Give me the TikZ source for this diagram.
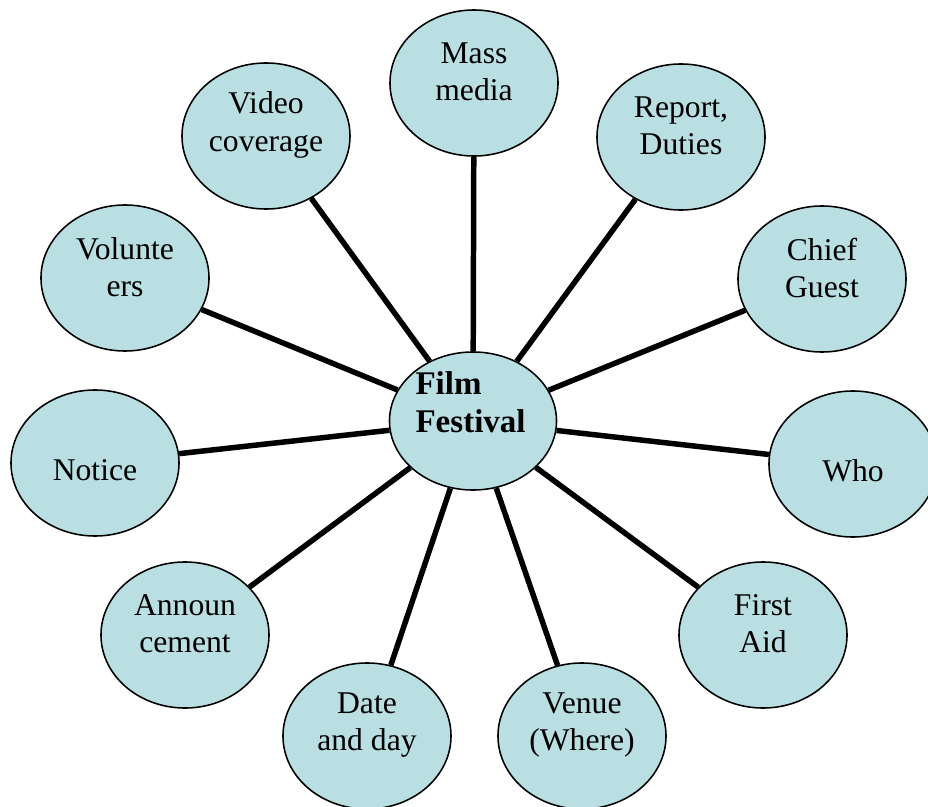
\documentclass[tikz,border=0pt]{standalone}
\usepackage{fontspec}
\setmainfont{Liberation Serif}
\usetikzlibrary{shapes.geometric}
\definecolor{bubblefill}{RGB}{185,223,227}

\begin{document}
\begin{tikzpicture}[x=0.025cm,y=-0.025cm,
        bubble/.style={draw,ellipse,fill=bubblefill,line width=1.1pt,inner sep=0pt,
            minimum width=4.2cm,minimum height=3.65cm},
        two/.style={label={[font=\fontsize{22.5pt}{26.5pt}\selectfont,align=center,yshift=0.275cm]center:#1}},
        one/.style={label={[font=\fontsize{22.5pt}{26.5pt}\selectfont,yshift=-0.175cm]center:#1}},
        spoke/.style={line width=3.9pt}]
            \useasboundingbox (0,0) rectangle (928,807);
            % centre
            \node[bubble,minimum width=4.175cm,minimum height=3.45cm,
                label={[font=\fontsize{23.5pt}{27pt}\selectfont\bfseries,align=left,yshift=0.475cm,xshift=-0.06cm]center:Film\\Festival}] (ff) at (473,421) {};
            % outer ring
            \node[bubble,two={Mass\\media}] (mass) at (474,83) {};
            \node[bubble,two={{Report,\\Duties}}] (rep) at (681,137) {};
            \node[bubble,two={Chief\\Guest}] (chief) at (822,279) {};
            \node[bubble,one={Who}] (who) at (853,464) {};
            \node[bubble,two={First\\Aid}] (aid) at (763,635) {};
            \node[bubble,two={Venue\\(Where)}] (venue) at (582,736) {};
            \node[bubble,two={Date\\and day}] (date) at (367,736) {};
            \node[bubble,two={Announ\\cement}] (ann) at (185,635) {};
            \node[bubble,one={Notice}] (notice) at (95,463) {};
            \node[bubble,two={Volunte\\ers}] (vol) at (125,278) {};
            \node[bubble,two={Video\\coverage}] (video) at (266,136) {};
            \draw[spoke] (ff) to (mass);
            \draw[spoke] (ff) to (rep);
            \draw[spoke] (ff) to (chief);
            \draw[spoke] (ff) to (who);
            \draw[spoke] (ff) to (aid);
            \draw[spoke] (ff) to (venue);
            \draw[spoke] (ff) to (date);
            \draw[spoke] (ff) to (ann);
            \draw[spoke] (ff) to (notice);
            \draw[spoke] (ff) to (vol);
            \draw[spoke] (ff) to (video);
        \end{tikzpicture}
\end{document}
